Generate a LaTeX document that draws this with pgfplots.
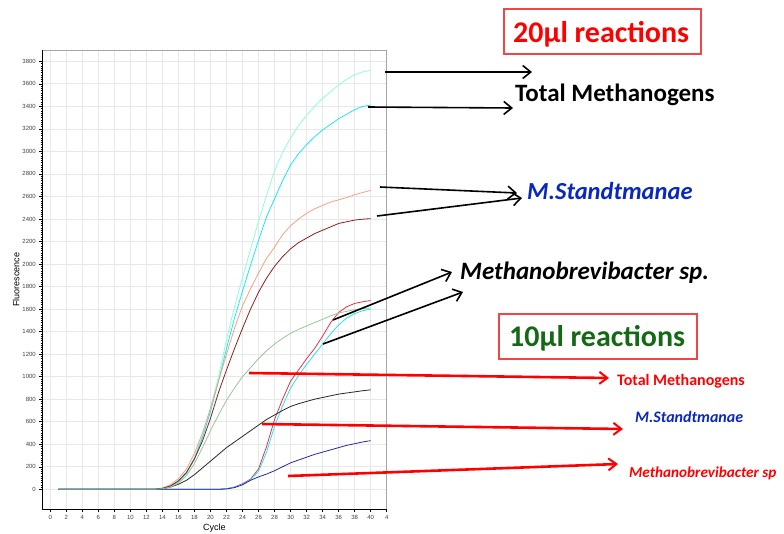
\documentclass[border=0pt]{standalone}
\usepackage{fontspec}
\setmainfont{Carlito}
\newfontfamily\arial{Liberation Sans}
\usepackage{pgfplots}
\pgfplotsset{compat=1.18}
\usepackage{pgfplotstable}
\usetikzlibrary{arrows.meta}

\definecolor{cA}{RGB}{140,255,220}
\definecolor{cB}{RGB}{30,230,245}
\definecolor{cC}{RGB}{250,160,130}
\definecolor{cD}{RGB}{140,30,30}
\definecolor{cR}{RGB}{225,50,80}
\definecolor{cS}{RGB}{40,225,240}
\definecolor{cG}{RGB}{150,200,150}
\definecolor{cK}{RGB}{40,40,40}
\definecolor{cU}{RGB}{40,40,160}
\definecolor{lblue}{RGB}{10,40,190}
\definecolor{lgreen}{RGB}{20,105,20}
\definecolor{boxred}{RGB}{240,70,70}

% 20 ul reactions: A,B total methanogens; C,D M. Standtmanae; R,S Methanobrevibacter sp.
\pgfplotstableread{
c A B C D R S
1 0 0 0 0 0 0
2 0 0 0 0 0 0
3 0 0 0 0 0 0
4 0 0 0 0 0 0
5 0 0 0 0 0 0
6 0 0 0 0 0 0
7 0 0 0 0 0 0
8 0 0 0 0 0 0
9 0 0 0 0 0 0
10 0 0 0 0 0 0
11 0 0 0 0 0 0
12 0 0 0 0 0 0
13 0 0 0 0 0 0
14 8 6 12 8 0 0
15 30 25 40 30 0 0
16 75 65 95 75 0 0
17 150 140 180 150 0 0
18 290 270 320 270 0 0
19 480 460 500 430 0 0
20 720 690 720 630 0 0
21 1000 960 960 860 0 0
22 1330 1250 1200 1060 5 5
23 1620 1520 1430 1250 20 18
24 1880 1760 1630 1430 50 45
25 2130 1990 1780 1600 90 85
26 2380 2210 1920 1750 180 160
27 2610 2420 2050 1875 380 330
28 2830 2580 2150 1980 620 560
29 2990 2740 2260 2065 800 740
30 3120 2880 2340 2135 960 900
31 3230 2980 2400 2190 1060 1010
32 3320 3060 2450 2230 1160 1110
33 3400 3130 2490 2270 1250 1200
34 3470 3190 2520 2300 1360 1290
35 3530 3240 2550 2330 1480 1380
36 3590 3290 2570 2360 1570 1460
37 3640 3330 2590 2375 1620 1520
38 3680 3370 2615 2390 1650 1560
39 3705 3400 2635 2398 1665 1585
40 3720 3410 2654 2403 1676 1600
}\twentyul

% 10 ul reactions: G total methanogens; K M. Standtmanae; U Methanobrevibacter sp.
\pgfplotstableread{
c G K U
1 0 0 0
2 0 0 0
3 0 0 0
4 0 0 0
5 0 0 0
6 0 0 0
7 0 0 0
8 0 0 0
9 0 0 0
10 0 0 0
11 0 0 0
12 0 0 0
13 0 0 0
14 5 5 0
15 20 20 0
16 55 45 0
17 120 80 0
18 230 130 0
19 370 190 0
20 520 250 0
21 660 310 0
22 790 370 3
23 900 420 15
24 1000 470 40
25 1080 520 80
26 1160 570 110
27 1230 620 135
28 1290 660 165
29 1340 700 200
30 1385 735 235
31 1420 760 260
32 1450 780 285
33 1480 800 310
34 1510 815 330
35 1540 830 350
36 1565 845 370
37 1580 855 390
38 1595 865 405
39 1605 875 420
40 1610 883 432
}\tenul

\begin{document}
\begin{tikzpicture}
\useasboundingbox (0pt,0pt) rectangle (784pt,-533pt);
\begin{axis}[
  at={(42.3pt,-509pt)}, anchor=south west,
  width=344.4pt, height=459pt, scale only axis,
  xmin=-1, xmax=42, ymin=-175, ymax=3900,
  xtick={0,2,...,42},
  xticklabels={0,2,4,6,8,10,12,14,16,18,20,22,24,26,28,30,32,34,36,38,40,4},
  ytick={0,200,...,3800},
  minor y tick num=9,
  tick align=outside,
  xtick pos=bottom, ytick pos=left,
  major tick length=3pt, minor tick length=1.6pt,
  every tick/.style={black, line width=0.5pt},
  grid=major,
  major grid style={gray!18, line width=0.6pt},
  axis line style={gray!70, line width=0.8pt},
  /pgf/number format/assume math mode=true,
  /pgf/number format/1000 sep={},
  ticklabel style={font=\arial\fontsize{6}{7}\selectfont, text=black!75},
  xlabel={Cycle}, ylabel={Fluorescence},
  label style={font=\arial\fontsize{9}{10}\selectfont},
  ylabel style={yshift=-4pt},
  xlabel style={yshift=3pt},
  clip=false,
]
\addplot[cA, line width=0.8pt] table[x=c, y=A] {\twentyul};
\addplot[cB, line width=0.8pt] table[x=c, y=B] {\twentyul};
\addplot[cC, line width=0.8pt] table[x=c, y=C] {\twentyul};
\addplot[cD, line width=0.8pt] table[x=c, y=D] {\twentyul};
\addplot[cR, line width=0.8pt] table[x=c, y=R] {\twentyul};
\addplot[cS, line width=0.8pt] table[x=c, y=S] {\twentyul};
\addplot[cK, line width=0.8pt] table[x=c, y=K] {\tenul};
\addplot[cU, line width=0.8pt] table[x=c, y=U] {\tenul};
\addplot[cG, line width=0.8pt] table[x=c, y=G] {\tenul};
\draw[black, line width=1pt] (rel axis cs:0,1) -- (rel axis cs:0,0) -- (rel axis cs:1,0);
\end{axis}
\begin{scope}[x=1pt, y=-1pt]
  \tikzset{barrow/.style={black, line width=1.6pt, -{Straight Barb[length=8pt,width=13pt,line width=1.6pt]}},
           rarrow/.style={red, line width=2.6pt, -{Straight Barb[length=8pt,width=12pt,line width=2pt]}}}
  % 20 ul annotations
  \draw[boxred, line width=1.4pt] (504,9) rectangle (701,54);
  \node[anchor=base west, inner sep=0pt, text=red, font=\bfseries\fontsize{30}{34}\selectfont] at (513,42.7) {20µl reactions};
  \draw[barrow] (385,72) -- (532,72);
  \draw[barrow] (368,107) -- (513,108);
  \node[anchor=base west, inner sep=0pt, font=\bfseries\fontsize{25}{29}\selectfont] at (515,101) {Total Methanogens};
  \draw[barrow] (380,187) -- (517,193);
  \draw[barrow] (377,216) -- (522,198);
  \node[anchor=base west, inner sep=0pt, text=lblue, font=\bfseries\itshape\fontsize{24.5}{28}\selectfont] at (527,199) {M.Standtmanae};
  \draw[barrow] (333,320) -- (452,272);
  \draw[barrow] (323,344) -- (463,292);
  \node[anchor=base west, inner sep=0pt, font=\bfseries\itshape\fontsize{25}{29}\selectfont] at (460,279.3) {Methanobrevibacter sp.};
  % 10 ul annotations
  \draw[boxred, line width=1.4pt] (499,314) rectangle (697,359);
  \node[anchor=base west, inner sep=0pt, text=lgreen, font=\bfseries\fontsize{30}{34}\selectfont] at (509,346) {10µl reactions};
  \draw[rarrow] (249,373) -- (609,378);
  \node[anchor=base west, inner sep=0pt, text=red, font=\bfseries\fontsize{16}{19}\selectfont] at (617,385) {Total Methanogens};
  \draw[rarrow] (262,424) -- (623,429);
  \node[anchor=base west, inner sep=0pt, text=lblue, font=\bfseries\itshape\fontsize{16}{19}\selectfont] at (635,422) {M.Standtmanae};
  \draw[rarrow] (288,476) -- (618,464);
  \node[anchor=base west, inner sep=0pt, text=red, font=\bfseries\itshape\fontsize{15.2}{18}\selectfont] at (629,477) {Methanobrevibacter sp};
\end{scope}
\end{tikzpicture}
\end{document}
